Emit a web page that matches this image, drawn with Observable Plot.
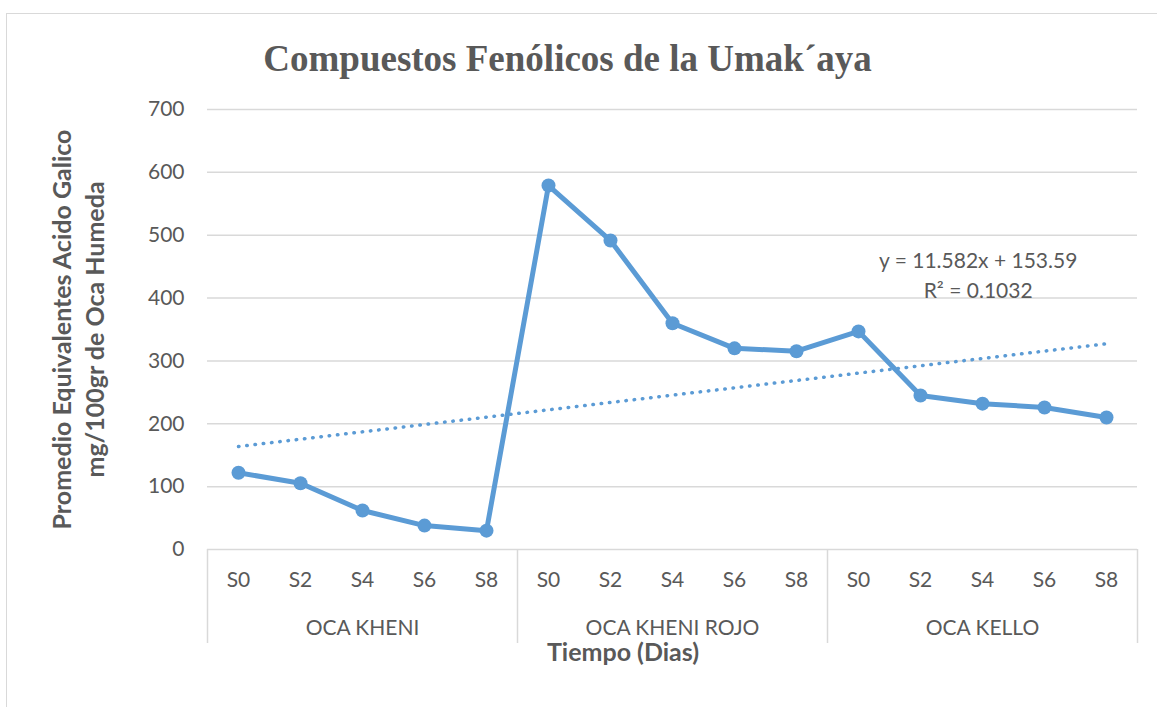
<!DOCTYPE html>
<html>
<head>
<meta charset="utf-8">
<script src="https://cdn.jsdelivr.net/npm/d3@7"></script>
<script src="https://cdn.jsdelivr.net/npm/@observablehq/plot@0.6"></script>
<style>
  html, body { margin: 0; padding: 0; background: #fff; }
  #wrap { position: relative; width: 1157px; height: 707px; overflow: hidden; }
  #border { position: absolute; left: 6px; top: 13px; width: 1200px; height: 760px; border: 1.5px solid #d9d9d9; box-sizing: border-box; }
  #title { position: relative; height: 95px; box-sizing: border-box; padding-top: 40px; padding-right: 22px;
           text-align: center; font: bold 37px "Liberation Serif", "Times New Roman", serif; line-height: 37px; color: #595959; }
  #chart { position: relative; }
  #chart svg { overflow: visible; }
</style>
</head>
<body>
<div id="wrap">
  <div id="border"></div>
  <div id="title">Compuestos Fenólicos de la Umak´aya</div>
  <div id="chart"></div>
</div>
<script>
const groups = ["OCA KHENI", "OCA KHENI ROJO", "OCA KELLO"];
const times = ["S0", "S2", "S4", "S6", "S8"];
const kheni = [122, 105.5, 62, 38, 30];
const kheniRojo = [579, 491.5, 360, 320, 315.5];
const kello = [347, 245, 232, 226, 210];
const yTicks = [0, 100, 200, 300, 400, 500, 600, 700];
const trendText = ["y = 11.582x + 153.59", "R² = 0.1032"];

const seriesByGroup = [kheni, kheniRojo, kello];
const rows = [];
groups.forEach((g, gi) => {
  times.forEach((t, ti) => {
    rows.push({i: gi * times.length + ti + 1, group: g, time: t, value: seriesByGroup[gi][ti]});
  });
});
const groupRows = groups.map((g, gi) => ({group: g, center: gi * times.length + (times.length + 1) / 2}));
const bounds = d3.range(groups.length + 1).map(k => k * times.length + 0.5);

const blue = "#5b9bd5";
const grey = "#595959";
const gridC = "#d9d9d9";
const font = "Lato, 'Open Sans', sans-serif";

const chart = Plot.plot({
  width: 1157,
  height: 612,
  marginTop: 14,
  marginBottom: 158,
  marginLeft: 207,
  marginRight: 20,
  style: {fontFamily: font, color: grey, background: "transparent", overflow: "visible"},
  x: {type: "linear", domain: [0.5, rows.length + 0.5], axis: null},
  y: {domain: [0, 700], axis: null},
  marks: [
    Plot.ruleY(yTicks, {stroke: gridC, strokeWidth: 1.5}),
    Plot.ruleX(bounds, {stroke: gridC, strokeWidth: 1.5, insetTop: 440, insetBottom: -94}),
    Plot.axisY({ticks: yTicks, tickSize: 0, tickPadding: 23, fontSize: 21, fill: grey, label: null}),
    Plot.text(rows, {x: "i", text: "time", frameAnchor: "bottom", dy: 31, lineAnchor: "middle", fontSize: 21, fill: grey}),
    Plot.text(groupRows, {x: "center", text: "group", frameAnchor: "bottom", dy: 79, lineAnchor: "middle", fontSize: 21, fill: grey}),
    Plot.text(["Tiempo (Dias)"], {frameAnchor: "bottom", dx: -49.5, dy: 103, lineAnchor: "middle", fontSize: 25, fontWeight: "bold", fill: grey}),
    Plot.text(["Promedio Equivalentes Acido Galico\nmg/100gr de Oca Humeda"], {frameAnchor: "left", textAnchor: "middle", rotate: -90, dx: -130.5, lineAnchor: "middle", lineHeight: 1.32, fontSize: 25, fontWeight: "bold", fill: grey}),
    Plot.linearRegressionY(rows, {x: "i", y: "value", ci: 0, stroke: blue, strokeWidth: 3.5, strokeDasharray: "0.5 7.8", strokeLinecap: "round"}),
    Plot.line(rows, {x: "i", y: "value", stroke: blue, strokeWidth: 5, strokeLinejoin: "round"}),
    Plot.dot(rows, {x: "i", y: "value", r: 7, fill: blue, stroke: null}),
    Plot.text([trendText.join("\n")], {x: 12.93, y: 439, lineAnchor: "middle", lineHeight: 1.4, fontSize: 21, fill: grey})
  ]
});
document.getElementById("chart").appendChild(chart);
</script>
</body>
</html>
